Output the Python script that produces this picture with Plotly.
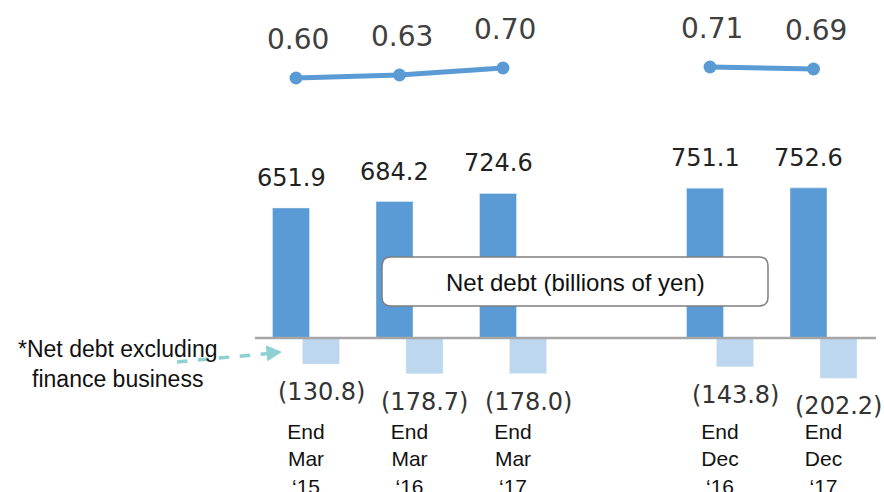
import plotly.graph_objects as go

# ---- data ----
categories = ["End<br>Mar<br>\u201815", "End<br>Mar<br>\u201816", "End<br>Mar<br>\u201817", " ",
              "End<br>Dec<br>\u201816", "End<br>Dec<br>\u201817"]
net_debt = [651.9, 684.2, 724.6, None, 751.1, 752.6]
net_debt_ex_fin = [-130.8, -178.7, -178.0, None, -143.8, -202.2]
ratio = [0.60, 0.63, 0.70, None, 0.71, 0.69]

W, H = 884, 492
DARK = "#5B9BD5"
LIGHT = "#BDD7EE"
NUMFONT = "DejaVu Sans"
TXTFONT = "Liberation Sans, Arial"


def px(x):
    return x / W


def py(y):
    return 1 - y / H


fig = go.Figure()

bw = 37 / 103.5
fig.add_trace(go.Bar(x=categories, y=net_debt, marker_color=DARK, width=bw,
                     offset=-33.5 / 103.5, xaxis="x", yaxis="y", hoverinfo="skip"))
fig.add_trace(go.Bar(x=categories, y=net_debt_ex_fin, marker_color=LIGHT, width=bw,
                     offset=-3.5 / 103.5, xaxis="x", yaxis="y", hoverinfo="skip"))
fig.add_trace(go.Scatter(x=categories, y=ratio, mode="lines+markers",
                         line=dict(color=DARK, width=5), marker=dict(size=13, color=DARK),
                         connectgaps=False, xaxis="x2", yaxis="y2", hoverinfo="skip"))

annotations = []
for c, v in zip(categories, net_debt):
    if v is None:
        continue
    annotations.append(dict(x=c, y=v, xref="x", yref="y", text=f"{v:.1f}", showarrow=False,
                            xshift=-15, yshift=30, yanchor="middle", xanchor="center",
                            font=dict(family=NUMFONT, size=24, color="#222222")))
for c, v in zip(categories, net_debt_ex_fin):
    if v is None:
        continue
    annotations.append(dict(x=c, y=v, xref="x", yref="y", text=f"({abs(v):.1f})", showarrow=False,
                            xshift=15, yshift=-28, yanchor="middle", xanchor="center",
                            font=dict(family=NUMFONT, size=24, color="#333333")))
for c, v in zip(categories, ratio):
    if v is None:
        continue
    annotations.append(dict(x=c, y=v, xref="x2", yref="y2", text=f"{v:.2f}", showarrow=False,
                            xshift=2, yshift=39, yanchor="middle", xanchor="center",
                            font=dict(family=NUMFONT, size=28, color="#404040")))

annotations.append(dict(x=px(575), y=py(282), xref="paper", yref="paper",
                        text="Net debt (billions of yen)", showarrow=False,
                        xanchor="center", yanchor="middle",
                        font=dict(family=TXTFONT, size=24, color="#111111")))
annotations.append(dict(x=px(117), y=py(364), xref="paper", yref="paper",
                        text="*Net debt excluding<br>finance business", showarrow=False,
                        xanchor="center", yanchor="middle",
                        align="center", font=dict(family=TXTFONT, size=23, color="#111111")))


def rounded_rect(x0, y0, x1, y1, r):
    return (f"M {px(x0 + r)},{py(y0)} L {px(x1 - r)},{py(y0)} "
            f"Q {px(x1)},{py(y0)} {px(x1)},{py(y0 + r)} L {px(x1)},{py(y1 - r)} "
            f"Q {px(x1)},{py(y1)} {px(x1 - r)},{py(y1)} L {px(x0 + r)},{py(y1)} "
            f"Q {px(x0)},{py(y1)} {px(x0)},{py(y1 - r)} L {px(x0)},{py(y0 + r)} "
            f"Q {px(x0)},{py(y0)} {px(x0 + r)},{py(y0)} Z")


shapes = [
    dict(type="line", xref="paper", yref="y", x0=px(255), x1=px(876), y0=0, y1=0,
         line=dict(color="#A6A6A6", width=2.5), layer="above"),
    dict(type="path", xref="paper", yref="paper", path=rounded_rect(382, 257, 768, 306, 9),
         fillcolor="white", line=dict(color="#7F7F7F", width=1.5), layer="above"),
    dict(type="line", xref="paper", yref="paper", x0=px(177), y0=py(362), x1=px(268), y1=py(353.5),
         line=dict(color="#8FD0D2", width=3.5, dash="dash")),
    dict(type="path", xref="paper", yref="paper",
         path=f"M {px(281)},{py(352)} L {px(266.4)},{py(346)} L {px(267.8)},{py(360.5)} Z",
         fillcolor="#8FD0D2", line=dict(color="#8FD0D2", width=1)),
]

fig.update_layout(
    width=W, height=H, margin=dict(l=0, r=0, t=0, b=0, autoexpand=False),
    paper_bgcolor="white", plot_bgcolor="rgba(0,0,0,0)",
    barmode="overlay", showlegend=False,
    xaxis=dict(domain=[0, 1], range=[-306 / 103.5, (W - 306) / 103.5], type="category",
               categoryorder="array", categoryarray=categories, automargin=False,
               anchor="free", position=py(417), showline=False, showgrid=False, zeroline=False,
               ticks="", tickfont=dict(family=TXTFONT, size=21, color="#111111")),
    xaxis2=dict(domain=[0, 1], range=[-296 / 103.5, (W - 296) / 103.5], type="category",
                categoryorder="array", categoryarray=categories, overlaying="x",
                showticklabels=False, showgrid=False, zeroline=False, showline=False),
    yaxis=dict(domain=[0, 1], range=[-(H - 338) / 0.1995, 338 / 0.1995], visible=False),
    yaxis2=dict(domain=[0, 1], range=[0.60 - (H - 78) / 100, 0.60 + 78 / 100],
                overlaying="y", visible=False),
    annotations=annotations, shapes=shapes,
)

fig.write_html("out.html")
